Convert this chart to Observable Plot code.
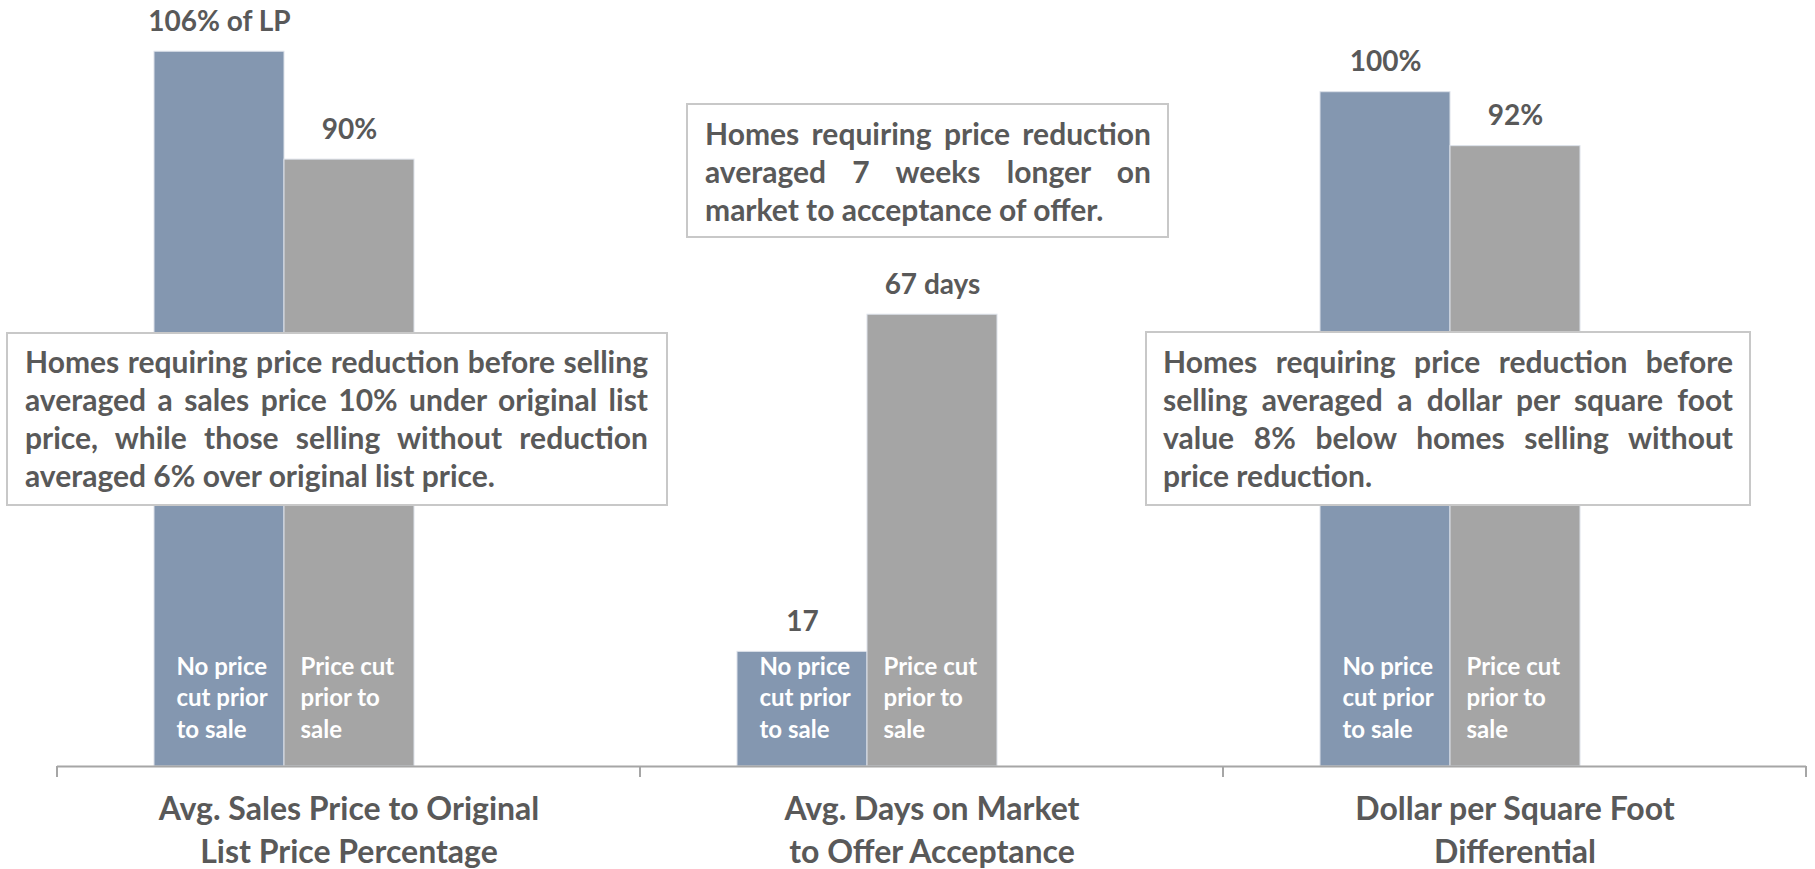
<!DOCTYPE html>
<html>
<head>
<meta charset="utf-8">
<script src="https://cdn.jsdelivr.net/npm/d3@7"></script>
<script src="https://cdn.jsdelivr.net/npm/@observablehq/plot@0.6"></script>
<style>
  html, body { margin: 0; padding: 0; background: #fff; }
  #wrap { position: relative; width: 1815px; height: 869px; overflow: hidden; font-family: Lato, "Open Sans", sans-serif; }
  #wrap svg { position: absolute; left: 0; top: 0; }
  .note { position: absolute; box-sizing: border-box; background: #fff; border: 2px solid #c8c8c8;
          color: #595959; font-weight: 700; font-size: 30px; line-height: 38px; white-space: nowrap; }
  .note .l { text-align: justify; text-align-last: justify; }
  .note .l.last { text-align-last: left; }
</style>
</head>
<body>
<div id="wrap"></div>
<script>
// ---- data ----
const categories = ["Sales price to list price", "Days on market", "Dollar per square foot"];
const categoryLabels = [
  "Avg. Sales Price to Original\nList Price Percentage",
  "Avg. Days on Market\nto Offer Acceptance",
  "Dollar per Square Foot\nDifferential"
];
const series = ["No price cut prior to sale", "Price cut prior to sale"];
const seriesLabels = ["No price\ncut prior\nto sale", "Price cut\nprior to\nsale"];
const noCutValues = [106, 17, 100];
const cutValues = [90, 67, 92];
const noCutLabels = ["106% of LP", "17", "100%"];
const cutLabels = ["90%", "67 days", "92%"];
const noteLines = [
  ["Homes requiring price reduction before selling",
   "averaged a sales price 10% under original list",
   "price, while those selling without reduction",
   "averaged 6% over original list price."],
  ["Homes requiring price reduction",
   "averaged 7 weeks longer on",
   "market to acceptance of offer."],
  ["Homes requiring price reduction before",
   "selling averaged a dollar per square foot",
   "value 8% below homes selling without",
   "price reduction."]
];

// ---- table built from the arrays ----
const rows = categories.flatMap((c, i) => [
  {category: c, catLabel: categoryLabels[i], series: series[0], value: noCutValues[i], label: noCutLabels[i], inner: seriesLabels[0]},
  {category: c, catLabel: categoryLabels[i], series: series[1], value: cutValues[i], label: cutLabels[i], inner: seriesLabels[1]}
]);

const textColor = "#595959";

function edgeTicks(index, scales, values, dimensions) {
  const r = scales.x.range();
  const y0 = scales.y(0);
  const g = document.createElementNS("http://www.w3.org/2000/svg", "g");
  for (const x of [r[0], r[1]]) {
    const ln = document.createElementNS("http://www.w3.org/2000/svg", "line");
    ln.setAttribute("x1", x); ln.setAttribute("x2", x);
    ln.setAttribute("y1", y0); ln.setAttribute("y2", y0 + 11);
    ln.setAttribute("stroke", "#A6A6A6"); ln.setAttribute("stroke-width", 2);
    g.appendChild(ln);
  }
  return g;
}

const plot = Plot.plot({
  width: 1815,
  height: 869,
  marginTop: 0,
  marginBottom: 103,
  marginLeft: 57,
  marginRight: 9,
  style: {fontFamily: "Lato, 'Open Sans', sans-serif", background: "white", overflow: "visible"},
  facet: {data: rows, x: "category"},
  fx: {domain: categories, padding: 0, axis: null, label: null},
  x: {domain: [...series, "(empty slot)"], paddingInner: 0, paddingOuter: 0.742, axis: null, label: null},
  y: {domain: [0, 113.6], axis: null, label: null},
  color: {domain: series, range: ["#8497B0", "#A5A5A5"]},
  marks: [
    Plot.barY(rows, {x: "series", y: "value", fill: "series", stroke: "#dde2ea", strokeWidth: 1}),
    Plot.ruleY([0], {stroke: "#A6A6A6", strokeWidth: 2}),
    edgeTicks,
    Plot.text(rows, {x: "series", y: "value", text: "label", dy: -30, fontSize: 28, fontWeight: 700, fill: textColor}),
    Plot.text(rows, {filter: d => d.series === series[0], x: "series", y: 0, text: "inner", textAnchor: "start",
      lineAnchor: "middle", dx: -43, dy: -70, lineHeight: 1.3, fontSize: 24, fontWeight: 700, fill: "white"}),
    Plot.text(rows, {filter: d => d.series === series[1], x: "series", y: 0, text: "inner", textAnchor: "start",
      lineAnchor: "middle", dx: -49, dy: -70, lineHeight: 1.3, fontSize: 24, fontWeight: 700, fill: "white"}),
    Plot.text(rows, {filter: d => d.series === series[0], frameAnchor: "bottom", text: "catLabel",
      lineAnchor: "middle", dy: 61, lineHeight: 1.34, fontSize: 32, fontWeight: 700, fill: textColor})
  ]
});

const wrap = document.getElementById("wrap");
wrap.appendChild(plot);

// annotation boxes (callouts overlaid on the chart)
const boxes = [
  {left: 6, top: 332, width: 662, height: 174, padL: 17, padR: 18, padT: 8},
  {left: 686, top: 103, width: 483, height: 135, padL: 17, padR: 16, padT: 9},
  {left: 1145, top: 331, width: 606, height: 175, padL: 16, padR: 16, padT: 9}
];
boxes.forEach((b, i) => {
  const d = document.createElement("div");
  d.className = "note";
  Object.assign(d.style, {left: b.left + "px", top: b.top + "px", width: b.width + "px", height: b.height + "px",
    paddingLeft: b.padL + "px", paddingRight: b.padR + "px", paddingTop: b.padT + "px"});
  noteLines[i].forEach((t, j) => {
    const l = document.createElement("div");
    l.className = "l" + (j === noteLines[i].length - 1 ? " last" : "");
    l.textContent = t;
    d.appendChild(l);
  });
  wrap.appendChild(d);
});
</script>
</body>
</html>
